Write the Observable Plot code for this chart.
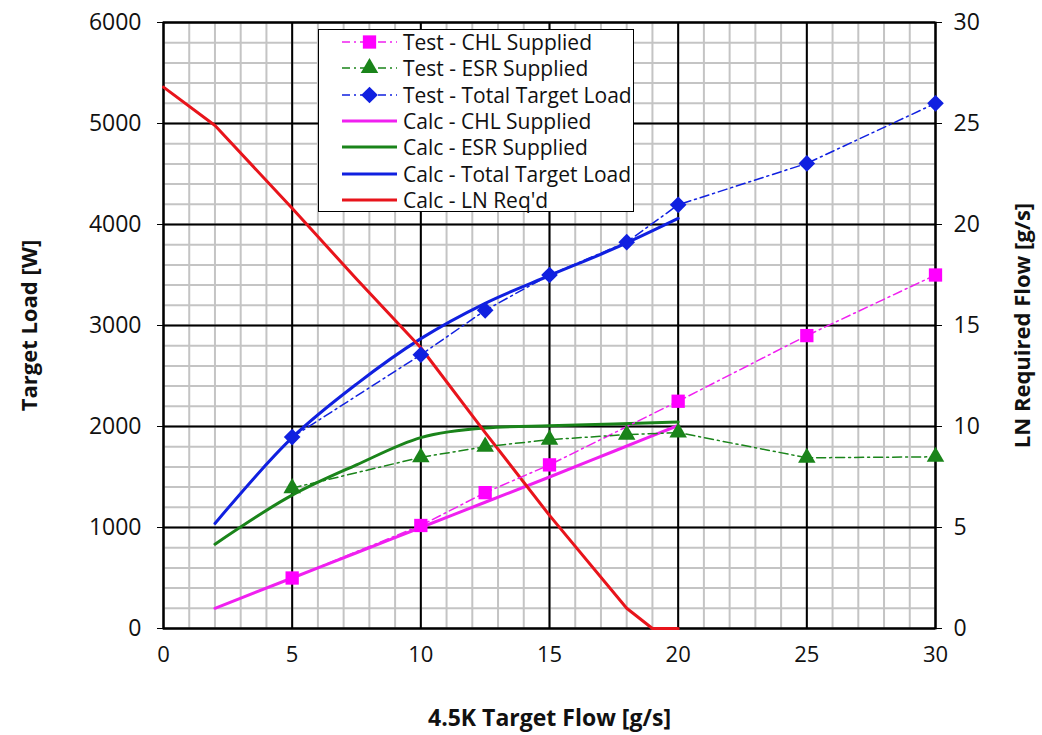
<!DOCTYPE html>
<html><head><meta charset="utf-8">
<script src="https://cdn.jsdelivr.net/npm/d3@7"></script>
<script src="https://cdn.jsdelivr.net/npm/@observablehq/plot@0.6"></script>
<style>
html,body{margin:0;padding:0;background:#fff;}
#wrap{position:relative;width:1042px;height:735px;}
#legend{position:absolute;left:318px;top:29px;width:314px;height:181px;background:#fff;border:1.5px solid #000;font-family:"Open Sans",sans-serif;font-size:21px;color:#111;}
.row{position:absolute;left:0;height:26px;display:flex;align-items:center;white-space:nowrap;}
.row svg{margin-left:23px;margin-right:6px;}
</style></head><body><div id="wrap"><div id="legend"></div></div>
<script>
// ---- data ----
const testCHLFlow = [5, 10, 12.5, 15, 20, 25, 30];
const testCHL     = [500, 1020, 1345, 1620, 2250, 2900, 3500];
const testFlow    = [5, 10, 12.5, 15, 18, 20, 25, 30];
const testESR     = [1390, 1695, 1800, 1870, 1920, 1940, 1690, 1700];
const testTotal   = [1895, 2710, 3150, 3500, 3825, 4195, 4605, 5200];
const calcFlow    = [2, 5, 7.5, 10, 12.5, 15, 17.5, 20];
const calcCHL     = [200, 500, 750, 1000, 1250, 1500, 1755, 2010];
const calcESR     = [835, 1320, 1620, 1890, 1985, 2008, 2025, 2045];
const calcTotal   = [1040, 1890, 2420, 2870, 3220, 3495, 3760, 4060];
const lnFlow      = [0, 2, 5, 7.5, 10, 12.5, 15, 18, 19, 20];
const lnReq       = [26.8, 24.9, 20.8, 17.3, 13.9, 9.7, 5.6, 1.0, 0, 0];

const xTicks = [0, 5, 10, 15, 20, 25, 30];
const yTicks = [0, 1000, 2000, 3000, 4000, 5000, 6000];
const rightTicks = [0, 5, 10, 15, 20, 25, 30];
const seriesNames = ["Test - CHL Supplied","Test - ESR Supplied","Test - Total Target Load","Calc - CHL Supplied","Calc - ESR Supplied","Calc - Total Target Load","Calc - LN Req'd"];

const MAG = "#f020f0", GRN = "#1a841a", BLU = "#1020e0", RED = "#e8141b";
const DASH = "9,4,2,4";
const RATIO = 200; // W per g/s on secondary axis

const zip = (xs, ys) => xs.map((x, i) => ({x, y: ys[i]}));
const dCHL = zip(testCHLFlow, testCHL), dESR = zip(testFlow, testESR), dTOT = zip(testFlow, testTotal);
const cCHL = zip(calcFlow, calcCHL), cESR = zip(calcFlow, calcESR), cTOT = zip(calcFlow, calcTotal);
const cLN = zip(lnFlow, lnReq);

const TICKFONT = "'Open Sans', sans-serif";

const chart = Plot.plot({
  width: 1042, height: 735,
  marginLeft: 163, marginRight: 107, marginTop: 22, marginBottom: 107,
  style: {fontFamily: TICKFONT, fontSize: "22px", color: "#111", background: "#fff"},
  x: {domain: [0, 30]},
  y: {domain: [0, 6000]},
  marks: [
    Plot.ruleX(d3.range(0, 31, 1), {stroke: "#c4c4c4", strokeWidth: 2}),
    Plot.ruleY(d3.range(0, 6001, 200), {stroke: "#c4c4c4", strokeWidth: 2}),
    Plot.ruleX(xTicks, {stroke: "#000", strokeWidth: 2}),
    Plot.ruleY(yTicks, {stroke: "#000", strokeWidth: 2}),
    Plot.frame({stroke: "#000", strokeWidth: 2}),
    // Calc lines
    Plot.line(cCHL, {x: "x", y: "y", stroke: MAG, strokeWidth: 3, curve: "monotone-x"}),
    Plot.line(cESR, {x: "x", y: "y", stroke: GRN, strokeWidth: 3, curve: "monotone-x"}),
    Plot.line(cTOT, {x: "x", y: "y", stroke: BLU, strokeWidth: 3, curve: "monotone-x"}),
    Plot.line(cLN, {x: "x", y: d => d.y * RATIO, stroke: RED, strokeWidth: 3, curve: "linear"}),
    // Test lines
    Plot.line(dCHL, {x: "x", y: "y", stroke: MAG, strokeWidth: 1.5, strokeDasharray: DASH}),
    Plot.line(dESR, {x: "x", y: "y", stroke: GRN, strokeWidth: 1.5, strokeDasharray: DASH}),
    Plot.line(dTOT, {x: "x", y: "y", stroke: BLU, strokeWidth: 1.5, strokeDasharray: DASH}),
    Plot.dot(dCHL, {x: "x", y: "y", symbol: "square", r: 7.5, fill: "#ff00ff", stroke: "none"}),
    Plot.dot(dESR, {x: "x", y: "y", symbol: "triangle", r: 6.5, fill: GRN, stroke: "none"}),
    Plot.dot(dTOT, {x: "x", y: "y", symbol: "diamond2", r: 7.5, fill: BLU, stroke: "none"}),
    Plot.axisX({ticks: xTicks, tickSize: 0, tickPadding: 18, label: null, fontSize: 22}),
    Plot.axisY({ticks: yTicks, tickSize: 6, tickPadding: 16, tickFormat: d => String(d), label: null, fontSize: 23, stroke: "#000"}),
    Plot.axisY({anchor: "right", ticks: rightTicks.map(v => v * RATIO), tickFormat: d => String(d / RATIO),
      tickSize: 6, tickPadding: 12, label: null, fontSize: 23, stroke: "#000"}),
    Plot.text(["Target Load [W]"], {frameAnchor: "left", dx: -134, rotate: -90, textAnchor: "middle", lineAnchor: "middle", fontWeight: "bold", fontSize: 22, fill: "#111"}),
    Plot.text(["LN Required Flow [g/s]"], {frameAnchor: "right", dx: 87, rotate: -90, textAnchor: "middle", lineAnchor: "middle", fontWeight: "bold", fontSize: 22, fill: "#111"}),
    Plot.text(["4.5K Target Flow [g/s]"], {frameAnchor: "bottom", dy: 90, textAnchor: "middle", lineAnchor: "middle", fontWeight: "bold", fontSize: 23, fill: "#111"})
  ]
});
document.getElementById("wrap").prepend(chart);

// ---- legend ----
const legendDefs = [
  {color: MAG, dash: true, sym: d3.symbolSquare, r: 7.5, fill: "#ff00ff"},
  {color: GRN, dash: true, sym: d3.symbolTriangle, r: 6.5, fill: GRN},
  {color: BLU, dash: true, sym: d3.symbolDiamond2, r: 7.5, fill: BLU},
  {color: MAG, dash: false},
  {color: GRN, dash: false},
  {color: BLU, dash: false},
  {color: RED, dash: false}
];
const leg = d3.select("#legend");
seriesNames.forEach((name, i) => {
  const def = legendDefs[i];
  const row = leg.append("div").attr("class", "row").style("top", (-1 + i * 26.3) + "px");
  const s = row.append("svg").attr("width", 55).attr("height", 26);
  s.append("line").attr("x1", 0).attr("x2", 55).attr("y1", 13).attr("y2", 13)
    .attr("stroke", def.color).attr("stroke-width", def.dash ? 1.5 : 3)
    .attr("stroke-dasharray", def.dash ? "8,4,2,4" : null);
  if (def.sym) {
    s.append("path").attr("transform", "translate(27.5,13)")
      .attr("d", d3.symbol(def.sym, Math.PI * def.r * def.r)()).attr("fill", def.fill);
  }
  row.append("span").text(name);
});
</script>
</body></html>
